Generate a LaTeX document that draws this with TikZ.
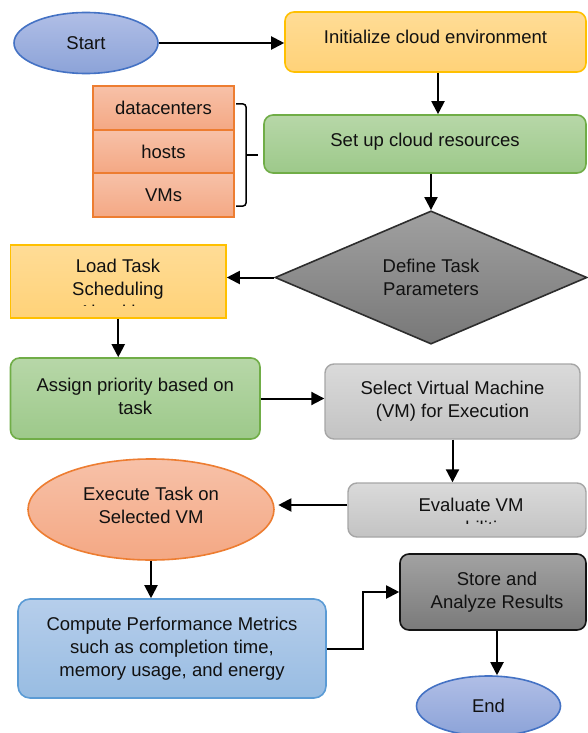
\documentclass[tikz,border=0pt]{standalone}
\usepackage{fontspec}
\setmainfont{Liberation Sans}
\usetikzlibrary{shapes.geometric,arrows.meta}
\definecolor{txtc}{HTML}{111111}
\begin{document}
\begin{tikzpicture}[x=1pt,y=-1pt,
  base/.style={line width=1.6pt,inner sep=0pt,align=center,text=txtc,
     font=\fontsize{18.5}{23}\selectfont},
  txt/.style={inner sep=0pt,align=center,text=txtc,font=\fontsize{18.5}{23}\selectfont},
  blueell/.style={base,ellipse,draw={rgb,255:red,68;green,114;blue,196},top color={rgb,255:red,176;green,190;blue,230},bottom color={rgb,255:red,140;green,163;blue,216}},
  yelbox/.style={base,draw={rgb,255:red,255;green,192;blue,0},top color={rgb,255:red,255;green,220;blue,150},bottom color={rgb,255:red,255;green,210;blue,120}},
  grnbox/.style={base,rounded corners=9pt,draw={rgb,255:red,112;green,173;blue,71},top color={rgb,255:red,183;green,215;blue,168},bottom color={rgb,255:red,157;green,201;blue,138}},
  salbox/.style={base,draw={rgb,255:red,237;green,125;blue,49},top color={rgb,255:red,247;green,193;blue,168},bottom color={rgb,255:red,244;green,168;blue,132}},
  lgrey/.style={base,rounded corners=9pt,line width=1.4pt,draw={rgb,255:red,166;green,166;blue,166},top color={rgb,255:red,218;green,218;blue,218},bottom color={rgb,255:red,195;green,195;blue,195}},
  dgrey/.style={base,rounded corners=9pt,draw={rgb,255:red,20;green,20;blue,20},top color={rgb,255:red,162;green,162;blue,162},bottom color={rgb,255:red,122;green,122;blue,122}},
  bluebox/.style={base,rounded corners=12pt,draw={rgb,255:red,91;green,155;blue,213},top color={rgb,255:red,182;green,206;blue,235},bottom color={rgb,255:red,152;green,188;blue,226}},
  arr/.style={line width=2pt,-{Triangle[length=13pt,width=13pt]}}]
\useasboundingbox[fill=white] (0,0) rectangle (587,733);

% nodes
\node[blueell,minimum width=144pt,minimum height=61pt] (start) at (86,43) {Start};
\node[yelbox,rounded corners=9pt,minimum width=301pt,minimum height=60pt] (init) at (435.5,42) {Initialize cloud environment\\[-13pt]};
\node[grnbox,minimum width=322pt,minimum height=58pt] (setup) at (425,144) {Set up cloud resources\\[-15pt]};

\node[salbox,minimum width=141pt,minimum height=44pt] (dc) at (163.5,108) {datacenters};
\node[salbox,minimum width=141pt,minimum height=43pt] (hosts) at (163.5,151.5) {hosts};
\node[salbox,minimum width=141pt,minimum height=44pt] (vms) at (163.5,195) {VMs};

\node[base,diamond,draw={rgb,255:red,45;green,45;blue,45},top color={rgb,255:red,160;green,160;blue,160},bottom color={rgb,255:red,120;green,120;blue,120},minimum width=312pt,minimum height=119pt] (define) at (431,277.5) {Define Task\\Parameters};

\node[yelbox,minimum width=215.5pt,minimum height=73pt] (load) at (118.25,281.5) {};
\begin{scope}
\clip (12,247) rectangle (224,305.5);
\node[txt] (loadtxt) at (118,291) {Load Task\\Scheduling\\Algorithm};
\end{scope}

\node[grnbox,minimum width=249.5pt,minimum height=81pt] (assign) at (135.25,398.5) {Assign priority based on\\task\\[-18pt]};
\node[lgrey,minimum width=255pt,minimum height=75pt] (select) at (452.5,401.5) {Select Virtual Machine\\(VM) for Execution};

\node[lgrey,minimum width=238pt,minimum height=54pt] (eval) at (467,510) {};
\begin{scope}
\clip (350,485) rectangle (584,523.5);
\node[txt] (evaltxt) at (471,518) {Evaluate VM\\capabilities};
\end{scope}

\node[salbox,ellipse,minimum width=246pt,minimum height=101pt] (exec) at (151,509.5) {Execute Task on\\Selected VM\\[-14pt]};
\node[bluebox,minimum width=308pt,minimum height=99pt] (comp) at (172,648.5) {Compute Performance Metrics\\such as completion time,\\memory usage, and energy};
\node[dgrey,minimum width=186pt,minimum height=76pt] (store) at (493,592) {\hspace*{8pt}Store and\\\hspace*{8pt}Analyze Results\\[-19pt]};
\node[blueell,minimum width=144pt,minimum height=60pt] (end) at (488.5,706) {End};

% bracket
\draw[line width=1.5pt,rounded corners=3pt] (236,104) -- (246,104) -- (246,206) -- (236,206);
\draw[line width=1.5pt] (246,155) -- (258,155);

% connectors
\draw[arr] (start.east) -- (start.east -| init.west);
\draw[arr] ([xshift=2.5pt]init.south) -- ([xshift=2.5pt]init.south |- setup.north);
\draw[arr] (setup.south -| define.north) -- (define.north);
\draw[arr] (define.west) -- (define.west -| load.east);
\draw[arr] (load.south) -- (load.south |- assign.north);
\draw[arr] (assign.east) -- (assign.east -| select.west);
\draw[arr] (select.south) -- (select.south |- eval.north);
\draw[arr] ([yshift=5pt]eval.west) -- ++(-69,0);
\draw[arr] (exec.south) -- (exec.south |- comp.north);
\draw[arr] (comp.east) -- ++(36,0) |- (store.west);
\draw[arr] ([xshift=4pt]store.south) -- ([xshift=4pt]store.south |- end.north);
\end{tikzpicture}
\end{document}
